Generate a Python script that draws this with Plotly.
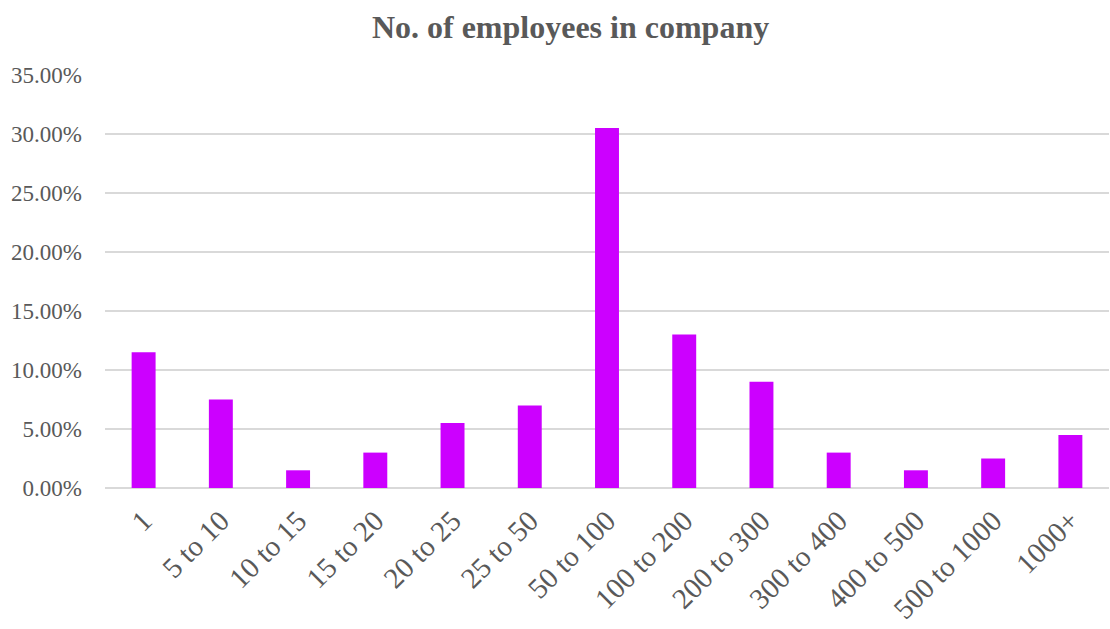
import plotly.graph_objects as go

categories = ["1", "5 to 10", "10 to 15", "15 to 20", "20 to 25", "25 to 50",
              "50 to 100", "100 to 200", "200 to 300", "300 to 400",
              "400 to 500", "500 to 1000", "1000+"]
shares = [0.115, 0.075, 0.015, 0.03, 0.055, 0.07,
          0.305, 0.13, 0.09, 0.03, 0.015, 0.025, 0.045]
tick_values = [0, 0.05, 0.10, 0.15, 0.20, 0.25, 0.30, 0.35]

font_family = "Liberation Serif, Times New Roman, serif"
grey = "#595959"

fig = go.Figure(go.Bar(
    x=categories,
    y=shares,
    marker=dict(color="#CC00FF", line=dict(width=0)),
    width=0.31,
))

fig.update_layout(
    width=1110,
    height=629,
    margin=dict(l=105, r=1, t=75, b=141),
    plot_bgcolor="white",
    paper_bgcolor="white",
    showlegend=False,
    title=dict(
        text="<b>No. of employees in company</b>",
        x=0.514, xanchor="center",
        y=0.957, yanchor="middle",
        font=dict(family=font_family, size=32, color=grey),
    ),
    font=dict(family=font_family, size=23, color=grey),
)

fig.update_xaxes(
    automargin=False,
    tickangle=-45,
    showgrid=False,
    showline=False,
    ticks="",
    ticklabelstandoff=9,
    tickfont=dict(family=font_family, size=29, color=grey),
)

fig.update_yaxes(
    automargin=False,
    range=[0, 0.35],
    tickvals=tick_values,
    tickformat=".2%",
    showgrid=True,
    gridcolor="#d9d9d9",
    gridwidth=1.5,
    zeroline=True,
    zerolinecolor="#d9d9d9",
    zerolinewidth=1.5,
    ticks="",
    ticklabelstandoff=22,
    tickfont=dict(family=font_family, size=23, color=grey),
)

fig.write_html("out.html")
